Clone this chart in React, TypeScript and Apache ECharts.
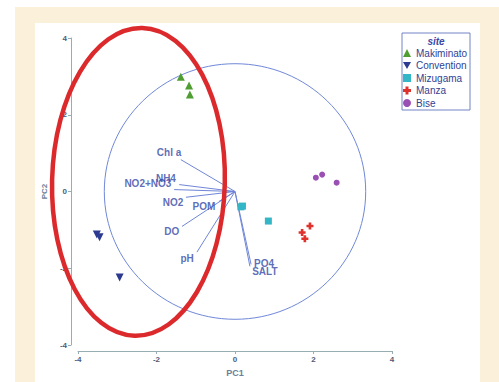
import React, { useEffect, useRef } from "react";
import * as echarts from "echarts";

const sites = ["Makiminato", "Convention", "Mizugama", "Manza", "Bise"];
const siteColors = ["#4f9e32", "#2c3a90", "#33b6c6", "#e0322c", "#9a4fb2"];
const siteSymbols = [
  "triangle",
  "path://M0,0L10,0L5,9Z",
  "rect",
  "path://M2.5,0H5.5V2.5H8V5.5H5.5V8H2.5V5.5H0V2.5H2.5Z",
  "circle",
];
const siteSizes = [8, 8, 7, 7, 6];
const makiminato = [[-1.38, 2.99], [-1.17, 2.76], [-1.15, 2.53]];
const convention = [[-3.52, -1.12], [-3.45, -1.19], [-2.94, -2.24]];
const mizugama = [[0.15, -0.40], [0.19, -0.38], [0.85, -0.77]];
const manza = [[1.91, -0.9], [1.71, -1.07], [1.78, -1.23]];
const bise = [[2.06, 0.36], [2.22, 0.44], [2.59, 0.23]];
const sitePoints = [makiminato, convention, mizugama, manza, bise];

const vectorNames = ["Chl a", "NH4", "NO2+NO3", "NO2", "POM", "DO", "pH", "PO4", "SALT"];
const vectorEnds = [
  [-1.38, 0.83], [-1.42, 0.18], [-1.55, 0.05], [-1.25, -0.15], [-0.41, -0.26],
  [-1.35, -0.91], [-0.97, -1.58], [0.41, -1.9], [0.38, -1.95],
];
const vectorLabelPos = [
  [-1.68, 1.01], [-1.76, 0.34], [-2.22, 0.21], [-1.58, -0.29], [-0.79, -0.39],
  [-1.61, -1.04], [-1.22, -1.74], [0.74, -1.87], [0.76, -2.08],
];
const circleRadius = 3.33;
const redEllipse = [-2.46, 0.25, 2.2, 4.01];
const axisTicks = [-4, 4, 2];

export default function App() {
  const ref = useRef<HTMLDivElement>(null);
  useEffect(() => {
    const chart = echarts.init(ref.current!, null, { renderer: "svg" });
    const axisColor = "#98adb2";
    const series: any[] = [];
    series.push({
      type: "custom",
      name: "circle",
      data: [[0, 0, circleRadius]],
      silent: true,
      z: 1,
      renderItem: (params: any, api: any) => {
        const c = api.coord([api.value(0), api.value(1)]);
        const s = api.size([api.value(2), api.value(2)]);
        return {
          type: "ellipse",
          shape: { cx: c[0], cy: c[1], rx: s[0], ry: s[1] },
          style: { fill: "none", stroke: "#7088d8", lineWidth: 1 },
        };
      },
    });
    vectorNames.forEach((n, i) => {
      series.push({
        type: "line",
        name: "v_" + n,
        data: [[0, 0], vectorEnds[i]],
        symbol: "none",
        silent: true,
        z: 2,
        lineStyle: { color: "#6f86d8", width: 1 },
      });
    });
    series.push({
      type: "scatter",
      name: "vlabels",
      data: vectorLabelPos.map((p, i) => ({ value: p, name: vectorNames[i] })),
      symbolSize: 1,
      itemStyle: { color: "rgba(0,0,0,0)" },
      silent: true,
      z: 3,
      label: {
        show: true,
        position: "inside",
        formatter: (p: any) => p.name,
        color: "#3447a6",
        fontSize: 10,
        fontWeight: "bold",
        fontFamily: "Liberation Sans, Arial, sans-serif",
      },
    });
    sites.forEach((s, i) => {
      series.push({
        type: "scatter",
        name: s,
        data: sitePoints[i],
        symbol: siteSymbols[i],
        symbolSize: siteSizes[i],
        z: 4,
        itemStyle: { color: siteColors[i], opacity: 1 },
      });
    });
    series.push({
      type: "custom",
      name: "redEllipse",
      data: [redEllipse],
      silent: true,
      z: 10,
      renderItem: (params: any, api: any) => {
        const c = api.coord([api.value(0), api.value(1)]);
        const s = api.size([api.value(2), api.value(3)]);
        return {
          type: "ellipse",
          x: c[0],
          y: c[1],
          rotation: -0.025,
          shape: { cx: 0, cy: 0, rx: s[0], ry: s[1] },
          style: { fill: "none", stroke: "#dc2a2c", lineWidth: 4.5 },
        };
      },
    });

    chart.setOption({
      animation: false,
      backgroundColor: "#ffffff",
      grid: { left: 78, right: 107, top: 38, bottom: 37 },
      xAxis: {
        type: "value",
        min: axisTicks[0],
        max: axisTicks[1],
        interval: axisTicks[2],
        offset: 6,
        name: "PC1",
        nameLocation: "middle",
        nameGap: 17,
        nameTextStyle: { color: "#6b7f9a", fontSize: 9, fontWeight: "bold" },
        axisLine: { show: true, onZero: false, lineStyle: { color: axisColor } },
        axisTick: { show: true, length: 3, lineStyle: { color: axisColor } },
        axisLabel: { color: "#4f5a78", fontSize: 8, fontWeight: "bold", margin: 4 },
        splitLine: { show: false },
      },
      yAxis: {
        type: "value",
        min: axisTicks[0],
        max: axisTicks[1],
        interval: axisTicks[2],
        offset: 7,
        name: "PC2",
        nameLocation: "middle",
        nameGap: 21,
        nameTextStyle: { color: "#6b7f9a", fontSize: 8, fontWeight: "bold" },
        axisLine: { show: true, onZero: false, lineStyle: { color: axisColor } },
        axisTick: { show: true, length: 3, lineStyle: { color: axisColor } },
        axisLabel: { color: "#4f5a78", fontSize: 8, fontWeight: "bold", margin: 4 },
        splitLine: { show: false },
      },
      legend: {
        data: sites,
        orient: "vertical",
        left: 403,
        top: 47,
        itemWidth: 8,
        itemHeight: 8,
        itemGap: 0.5,
        padding: 0,
        textStyle: {
          color: "#2f3f94",
          fontSize: 10,
          lineHeight: 12,
          fontFamily: "Liberation Sans, Arial, sans-serif",
        },
      },
      graphic: [
        { type: "rect", z: -10, silent: true, shape: { x: 15, y: 7, width: 484, height: 375 }, style: { fill: "#fbf0d9" } },
        { type: "rect", z: -9, silent: true, shape: { x: 35, y: 23, width: 445, height: 359 }, style: { fill: "#ffffff" } },
        { type: "rect", z: 5, silent: true, shape: { x: 402, y: 33, width: 68, height: 77 }, style: { fill: "none", stroke: "#7384c4", lineWidth: 1 } },
        {
          type: "text",
          z: 5,
          silent: true,
          x: 436,
          y: 41,
          style: {
            text: "site",
            fill: "#3a48a6",
            fontSize: 10,
            fontStyle: "italic",
            fontWeight: "bold",
            fontFamily: "Liberation Sans, Arial, sans-serif",
            align: "center",
            verticalAlign: "middle",
          },
        },
      ],
      series,
    });
    return () => chart.dispose();
  }, []);
  return (
    <div
      ref={ref}
      style={{ position: "fixed", left: 0, top: 0, width: 499, height: 382 }}
    />
  );
}
